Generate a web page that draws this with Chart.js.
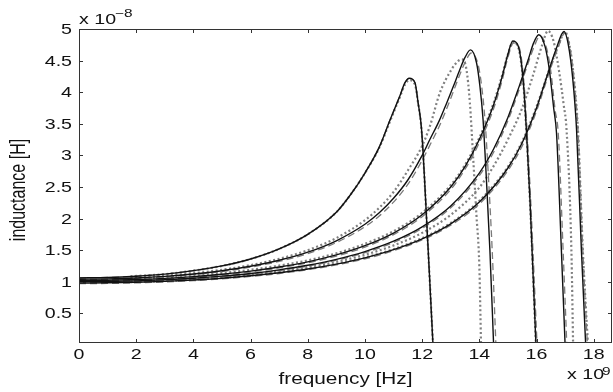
<!DOCTYPE html>
<html><head><meta charset="utf-8">
<script src="https://cdn.jsdelivr.net/npm/chart.js@4/dist/chart.umd.min.js"></script>
<style>html,body{margin:0;padding:0;background:#fff}</style>
</head><body>
<canvas id="c" width="613" height="392"></canvas>
<script>
// tick labels
const xTicks = [0,2,4,6,8,10,12,14,16,18];
const yTicks = [0.5,1,1.5,2,2.5,3,3.5,4,4.5,5];
const xTitle = 'frequency [Hz]';
const yTitle = 'inductance [H]';

// solid black curves (frequency [GHz], inductance [x1e-8 H])
const s1F = [0,1,2,3,4,5,6,7,8,9,9.5,10,10.5,10.87,11.22,11.4,11.55,11.75,11.86,11.98,12.2,12.38];
const s1L = [1.06,1.067,1.087,1.12,1.175,1.25,1.36,1.52,1.75,2.1,2.38,2.72,3.13,3.55,3.94,4.15,4.22,4.15,3.83,3.41,1.6,0];
const s2F = [0,1,2,3,4,5,6,7,8,9,10,10.5,11,11.5,12,12.27,12.6,12.86,13.1,13.32,13.5,13.69,13.9,14.02,14.13,14.25,14.37,14.5];
const s2L = [1.04,1.045,1.059,1.084,1.122,1.174,1.244,1.339,1.467,1.648,1.909,2.09,2.32,2.61,3.0,3.25,3.55,3.83,4.1,4.36,4.55,4.67,4.47,4.1,3.57,2.6,1.5,0];
const s3F = [0,1,2,3,4,5,6,7,8,9,10,11,12,13,13.5,14,14.5,14.8,15.0,15.17,15.36,15.54,15.65,15.77,15.98];
const s3L = [1.02,1.024,1.034,1.053,1.081,1.118,1.167,1.232,1.314,1.424,1.57,1.77,2.06,2.5,2.82,3.25,3.8,4.25,4.6,4.81,4.73,4.15,3.36,2.3,0];
const s4F = [0,1,2,3,4,5,6,7,8,9,10,11,12,13,14,14.5,15,15.4,15.7,15.9,16.08,16.3,16.45,16.6,16.7,16.87,17.0];
const s4L = [1.0,1.003,1.013,1.03,1.055,1.088,1.131,1.188,1.26,1.354,1.477,1.641,1.869,2.2,2.72,3.1,3.6,4.1,4.5,4.78,4.91,4.72,4.35,3.75,3.35,1.5,0];
const s5F = [0,1,2,3,4,5,6,7,8,9,10,11,12,13,14,15,15.5,16,16.4,16.7,16.96,17.15,17.3,17.4,17.57,17.72];
const s5L = [0.98,0.983,0.991,1.006,1.027,1.056,1.094,1.142,1.202,1.279,1.378,1.507,1.678,1.916,2.26,2.8,3.2,3.75,4.3,4.7,4.96,4.65,4.05,3.41,1.5,0];

// grey dashed curves
const d2F = [0,1,2,3,4,5,6,7,8,9,10,10.5,11,11.5,12,12.27,12.6,12.86,13.1,13.32,13.5,13.72,13.95,14.08,14.2,14.32,14.45,14.58];
const d2L = [1.03,1.035,1.05,1.075,1.112,1.162,1.23,1.322,1.446,1.62,1.87,2.04,2.26,2.54,2.92,3.16,3.46,3.74,4.02,4.28,4.47,4.62,4.45,4.1,3.55,2.65,1.5,0];
const d3F = [0,1,2,3,4,5,6,7,8,9,10,11,12,13,13.5,14,14.5,14.8,15.0,15.2,15.4,15.57,15.68,15.8,16.02];
const d3L = [1.01,1.014,1.024,1.043,1.07,1.106,1.154,1.218,1.298,1.405,1.548,1.745,2.03,2.46,2.78,3.2,3.74,4.19,4.55,4.78,4.7,4.1,3.3,2.25,0];
const d4F = [0,1,2,3,4,5,6,7,8,9,10,11,12,13,14,14.5,15,15.4,15.7,15.95,16.12,16.35,16.5,16.65,16.76,16.93,17.06];
const d4L = [0.99,0.993,1.003,1.02,1.045,1.077,1.12,1.176,1.247,1.34,1.46,1.62,1.845,2.17,2.68,3.05,3.55,4.05,4.45,4.76,4.89,4.7,4.33,3.72,3.35,1.5,0];
const d5F = [0,1,2,3,4,5,6,7,8,9,10,11,12,13,14,15,15.5,16,16.4,16.75,17.0,17.2,17.35,17.45,17.62,17.78];
const d5L = [0.97,0.973,0.981,0.996,1.017,1.045,1.083,1.13,1.19,1.265,1.362,1.49,1.66,1.895,2.23,2.76,3.15,3.7,4.25,4.7,4.94,4.62,4.02,3.41,1.5,0];

// grey marker curves
const m1F = [1.8,3,4,5,6,7,8,9,9.5,10,10.5,10.87,11.22,11.4,11.55,11.75,11.86,11.98,12.2,12.38];
const m1L = [1.085,1.12,1.175,1.25,1.36,1.52,1.75,2.1,2.38,2.72,3.12,3.53,3.92,4.12,4.19,4.12,3.82,3.4,1.6,0];
const m2F = [1.8,3,4,5,6,7,8,9,10,10.5,11,11.5,12,12.27,12.62,13.03,13.25,13.38,13.55,13.67,13.78,13.9,14.0,14.06];
const m2L = [1.066,1.096,1.135,1.189,1.263,1.362,1.499,1.691,1.974,2.17,2.42,2.76,3.15,3.46,3.99,4.36,4.49,4.52,4.36,3.83,3.0,2.05,1.25,0];
const m3F = [1.8,3,4,5,6,7,8,9,10,11,12,13,13.5,14,14.5,14.8,15.0,15.17,15.36,15.54,15.65,15.77,15.98];
const m3L = [1.05,1.07,1.1,1.138,1.188,1.255,1.338,1.45,1.6,1.8,2.09,2.53,2.85,3.28,3.83,4.27,4.6,4.79,4.71,4.13,3.34,2.28,0];
const m4F = [1.8,3,4,5,6,7,8,9,10,11,12,13,14,14.5,15,15.5,15.9,16.2,16.4,16.6,16.8,16.95,17.05,17.22,17.28];
const m4L = [1.0,1.018,1.041,1.072,1.112,1.165,1.231,1.316,1.427,1.574,1.773,2.058,2.49,2.83,3.25,3.75,4.3,4.75,4.97,4.8,4.3,3.8,3.41,1.5,0];
const m5F = [1.8,3,4,5,6,7,8,9,10,11,12,13,14,15,15.5,16,16.4,16.75,17.0,17.2,17.35,17.45,17.62,17.8];
const m5L = [0.995,1.01,1.032,1.06,1.098,1.147,1.207,1.285,1.385,1.515,1.69,1.93,2.28,2.82,3.22,3.77,4.3,4.72,4.95,4.62,4.02,3.41,1.5,0];

function pts(f, L) { return f.map((x, i) => ({x: x, y: L[i]})); }
const BLACK = '#111111', GREY = '#7a7a7a', MGREY = '#808080';
function solid(f, L) { return {data: pts(f, L), borderColor: BLACK, borderWidth: 1.4, pointRadius: 0, cubicInterpolationMode: 'monotone', fill: false}; }
function dashed(f, L) { return {data: pts(f, L), borderColor: GREY, borderWidth: 1.3, borderDash: [7, 4], pointRadius: 0, cubicInterpolationMode: 'monotone', fill: false}; }
function marked(f, L) { return {data: pts(f, L), borderColor: MGREY, borderWidth: 2.2, borderDash: [2, 2.5], pointRadius: 0, cubicInterpolationMode: 'monotone', fill: false}; }

const datasets = [
  solid(s1F, s1L), solid(s2F, s2L), solid(s3F, s3L), solid(s4F, s4L), solid(s5F, s5L),
  dashed(s1F, s1L), dashed(d2F, d2L), dashed(d3F, d3L), dashed(d4F, d4L), dashed(d5F, d5L),
  marked(m1F, m1L), marked(m2F, m2L), marked(m3F, m3L), marked(m4F, m4L), marked(m5F, m5L)
];

const FONT = '"Liberation Sans", Arial, Helvetica, sans-serif';
const SX = 1.4; // horizontal stretch of the text in the picture
function sText(ctx, text, x, y, align, size, sx) {
  ctx.save();
  ctx.font = size + 'px ' + FONT;
  ctx.translate(x, y);
  ctx.scale(sx, 1);
  ctx.textAlign = align;
  ctx.textBaseline = 'alphabetic';
  ctx.fillText(text, 0, 0);
  ctx.restore();
}
function fmt(v) { return String(v); }

const boxPlugin = {
  id: 'box',
  afterDraw(chart) {
    const {ctx, chartArea: a, scales: {x, y}} = chart;
    ctx.save();
    ctx.strokeStyle = '#333';
    ctx.lineWidth = 1;
    ctx.strokeRect(a.left + 0.5, a.top + 0.5, a.right - a.left - 1, a.bottom - a.top - 1);
    ctx.beginPath();
    xTicks.forEach(v => {
      const px = Math.round(x.getPixelForValue(v)) + 0.5;
      ctx.moveTo(px, a.bottom); ctx.lineTo(px, a.bottom - 4);
      ctx.moveTo(px, a.top); ctx.lineTo(px, a.top + 4);
    });
    yTicks.forEach(v => {
      const py = Math.round(y.getPixelForValue(v)) + 0.5;
      ctx.moveTo(a.left, py); ctx.lineTo(a.left + 4, py);
      ctx.moveTo(a.right, py); ctx.lineTo(a.right - 4, py);
    });
    ctx.stroke();
    ctx.fillStyle = '#111';
    // tick labels
    xTicks.forEach(v => sText(ctx, fmt(v), x.getPixelForValue(v), 359, 'center', 14, SX));
    yTicks.forEach(v => sText(ctx, fmt(v), 72, y.getPixelForValue(v) + 5, 'right', 14, SX));
    // axis titles
    sText(ctx, xTitle, (a.left + a.right) / 2, 384, 'center', 16, 1.3);
    ctx.save();
    ctx.font = '16px ' + FONT;
    ctx.translate(25, 190);
    ctx.scale(SX, 1);
    ctx.rotate(-Math.PI / 2);
    ctx.textAlign = 'center';
    ctx.textBaseline = 'alphabetic';
    ctx.fillText(yTitle, 0, 0);
    ctx.restore();
    // exponents
    sText(ctx, 'x 10', 79, 23.5, 'left', 14, SX);
    sText(ctx, '\u22128', 115, 17, 'left', 11, SX);
    sText(ctx, 'x 10', 567, 378.5, 'left', 14, SX);
    sText(ctx, '9', 602, 375, 'left', 11, SX);
    ctx.restore();
  }
};

new Chart(document.getElementById('c'), {
  type: 'line',
  data: {datasets},
  options: {
    responsive: false,
    animation: false,
    devicePixelRatio: 1,
    layout: {padding: {left: 0, right: 1, top: 29, bottom: 0}},
    plugins: {legend: {display: false}, tooltip: {enabled: false}},
    scales: {
      x: {
        type: 'linear', min: 0, max: 18.64,
        grid: {display: false, drawTicks: false},
        border: {display: false},
        ticks: {display: false},
        afterFit: s => { s.height = 49; }
      },
      y: {
        type: 'linear', min: 0.03, max: 5,
        grid: {display: false, drawTicks: false},
        border: {display: false},
        ticks: {display: false},
        afterFit: s => { s.width = 79; }
      }
    }
  },
  plugins: [boxPlugin]
});
</script>
</body></html>
